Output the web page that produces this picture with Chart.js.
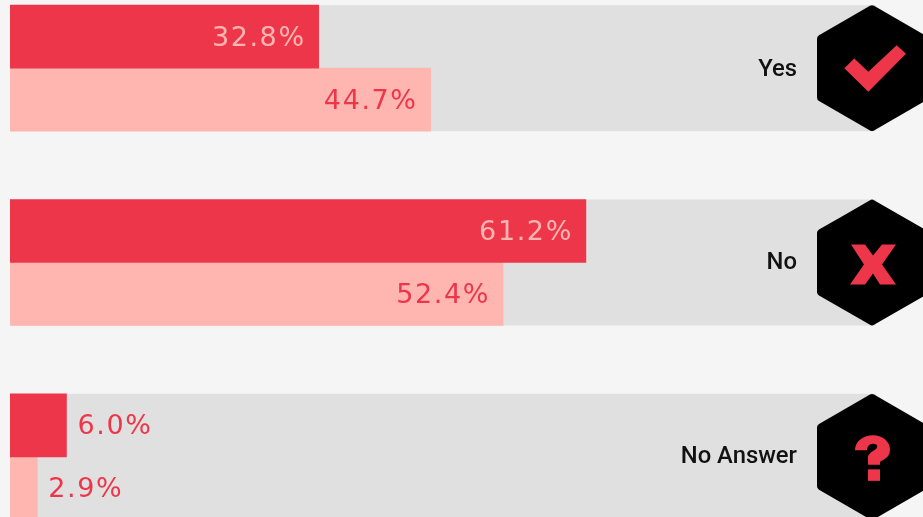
<!DOCTYPE html>
<html>
<head>
<meta charset="utf-8">
<title>Survey responses</title>
<script src="https://cdn.jsdelivr.net/npm/chart.js@4/dist/chart.umd.min.js"></script>
<style>
  html, body { margin: 0; padding: 0; width: 923px; height: 517px; overflow: hidden; background: #f5f5f5; }
  #frame { position: absolute; left: 0; top: 0; width: 923px; height: 517px; overflow: hidden; }
  #chart { position: absolute; left: 0; top: -29px; }
</style>
</head>
<body>
<div id="frame"><canvas id="chart" width="951" height="583"></canvas></div>
<script>
const categories = ['Yes', 'No', 'No Answer'];
const seriesDark = [32.8, 61.2, 6.0];
const seriesLight = [44.7, 52.4, 2.9];
const trackEnd = 92;

const RED = '#ee364a';
const PINK = '#ffb6b0';
const TRACK = '#e0e0e0';
const ICON_X = 872;

// Grey band running behind each pair of bars
const trackPlugin = {
  id: 'track',
  beforeDatasetsDraw(chart) {
    const { ctx, scales: { x } } = chart;
    const meta = chart.getDatasetMeta(0);
    const left = x.getPixelForValue(0);
    const right = x.getPixelForValue(trackEnd);
    ctx.save();
    ctx.fillStyle = TRACK;
    meta.data.forEach(bar => {
      const bandTop = bar.y - bar.height / 2;
      ctx.fillRect(left, bandTop, right - left, bar.height * 2);
    });
    ctx.restore();
  }
};

// Percentage text inside the bar when it fits, otherwise just past its end
const valueLabelPlugin = {
  id: 'valueLabels',
  afterDatasetsDraw(chart) {
    const { ctx } = chart;
    ctx.save();
    ctx.font = '400 27px "DejaVu Sans", sans-serif';
    ctx.letterSpacing = '1.6px';
    ctx.textBaseline = 'middle';
    chart.data.datasets.forEach((ds, di) => {
      chart.getDatasetMeta(di).data.forEach((bar, i) => {
        const text = ds.data[i].toFixed(1) + '%';
        const inside = bar.width > ctx.measureText(text).width + 30;
        ctx.textAlign = inside ? 'right' : 'left';
        ctx.fillStyle = inside && di === 0 ? PINK : RED;
        ctx.fillText(text, inside ? bar.x - 13 : bar.x + 11, bar.y + 2);
      });
    });
    ctx.restore();
  }
};

// Rounded hexagon badge, with its pointed ends at top and bottom
function hexagon(ctx, cx, cy, r, corner) {
  const pts = [];
  for (let k = 0; k < 6; k++) {
    const a = -Math.PI / 2 + k * Math.PI / 3;
    pts.push([cx + r * Math.cos(a), cy + r * Math.sin(a)]);
  }
  ctx.beginPath();
  const last = pts[5];
  ctx.moveTo((last[0] + pts[0][0]) / 2, (last[1] + pts[0][1]) / 2);
  for (let k = 0; k < 6; k++) {
    const p = pts[k], q = pts[(k + 1) % 6];
    ctx.arcTo(p[0], p[1], q[0], q[1], corner);
  }
  ctx.closePath();
  ctx.fill();
}

function polygon(ctx, cx, cy, pts) {
  ctx.beginPath();
  pts.forEach((p, k) => k ? ctx.lineTo(cx + p[0], cy + p[1]) : ctx.moveTo(cx + p[0], cy + p[1]));
  ctx.closePath();
  ctx.fill();
}

const glyphs = [
  (ctx, cx, cy) => polygon(ctx, cx, cy, [[-27.7, 0], [-17.7, -9.6], [-3.7, 3.7], [24.7, -23], [34, -14.3], [-3.7, 23.7]]),
  (ctx, cx, cy) => polygon(ctx, cx, cy, [[-21, -18], [-7, -18], [1, -7], [10, -18], [24, -18], [10, 2], [24, 22], [8, 22], [1, 11], [-7, 22], [-22, 22], [-8, 2]]),
  (ctx, cx, cy) => {
    ctx.beginPath();
    ctx.moveTo(cx - 17, cy - 6.5);
    ctx.bezierCurveTo(cx - 17, cy - 16, cx - 8, cy - 21.5, cx + 1, cy - 21.5);
    ctx.bezierCurveTo(cx + 11, cy - 21.5, cx + 18, cy - 15, cx + 18, cy - 7);
    ctx.bezierCurveTo(cx + 18, cy - 1, cx + 14, cy + 2, cx + 8, cy + 5);
    ctx.lineTo(cx + 8, cy + 8);
    ctx.lineTo(cx - 4, cy + 8);
    ctx.lineTo(cx - 4, cy + 1);
    ctx.bezierCurveTo(cx - 4, cy - 3, cx, cy - 5, cx + 3, cy - 7);
    ctx.bezierCurveTo(cx + 6, cy - 9, cx + 6.5, cy - 13, cx + 1, cy - 13);
    ctx.bezierCurveTo(cx - 3, cy - 13, cx - 5, cy - 10, cx - 5, cy - 6.5);
    ctx.closePath();
    ctx.fill();
    ctx.fillRect(cx - 4, cy + 12.5, 12, 11.5);
  }
];

// Small vertical trims for the category names against their band centres
const nameNudge = [2, 1, 0];

// Category name and badge at the right end of each band
const badgePlugin = {
  id: 'badges',
  afterDatasetsDraw(chart) {
    const { ctx, scales: { y } } = chart;
    categories.forEach((name, i) => {
      const cy = y.getPixelForValue(i);
      ctx.save();
      ctx.fillStyle = '#000';
      hexagon(ctx, ICON_X, cy, 63.5, 4);
      ctx.fillStyle = RED;
      glyphs[i](ctx, ICON_X, cy);
      ctx.restore();

      ctx.save();
      ctx.font = '500 23.8px Roboto, sans-serif';
      ctx.fillStyle = '#111';
      ctx.textAlign = 'right';
      ctx.textBaseline = 'middle';
      ctx.fillText(name, 797, cy + nameNudge[i]);
      ctx.restore();
    });
  }
};

new Chart(document.getElementById('chart'), {
  type: 'bar',
  data: {
    labels: categories,
    datasets: [
      { label: 'Dark', data: seriesDark, backgroundColor: RED, barThickness: 63 },
      { label: 'Light', data: seriesLight, backgroundColor: PINK, barThickness: 63 }
    ]
  },
  options: {
    indexAxis: 'y',
    responsive: false,
    animation: false,
    layout: { padding: { left: 10, right: 0, top: 0, bottom: 0 } },
    plugins: { legend: { display: false }, tooltip: { enabled: false } },
    scales: {
      x: { display: false, min: 0, max: 100 },
      y: { display: false, offset: true }
    }
  },
  plugins: [trackPlugin, valueLabelPlugin, badgePlugin]
});
</script>
</body>
</html>
